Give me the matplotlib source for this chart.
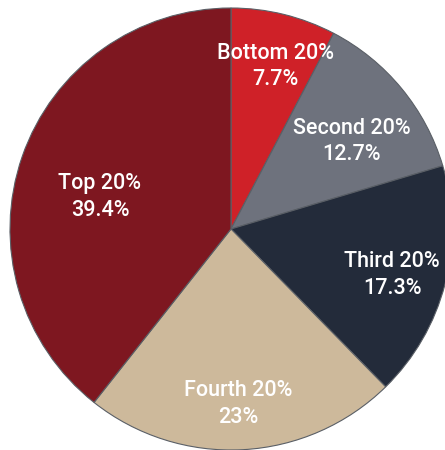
import matplotlib
matplotlib.use("Agg")
import matplotlib.pyplot as plt
import numpy as np

# quintile shares, clockwise from 12 o'clock
groups = ['Bottom 20%', 'Second 20%', 'Third 20%', 'Fourth 20%', 'Top 20%']
shares = [7.7, 12.7, 17.3, 23.0, 39.4]
share_labels = ['7.7%', '12.7%', '17.3%', '23%', '39.4%']
colors = ['#cf2128', '#6e727d', '#232b3a', '#cdb99b', '#7e1720']
# label placement: fraction of radius, and nudge (deg) from wedge middle
label_dist = [0.776, 0.684, 0.755, 0.779, 0.614]
label_nudge = [-1.3, -2.6, -0.5, -0.7, 4.2]

plt.rcParams['font.family'] = ['Roboto', 'DejaVu Sans']

fig = plt.figure(figsize=(4.45, 4.5), dpi=100)
ax = fig.add_axes([0, 0, 1, 1])

wedges, _ = ax.pie(shares, colors=colors, startangle=90, counterclock=False,
                   radius=1, center=(0, 0),
                   wedgeprops=dict(edgecolor='#5a5f66', linewidth=0.8))

# pie centre sits at (231, 229) px with radius 221 px; right/bottom are clipped
r_px = 221

for w, g, s, d, n in zip(wedges, groups, share_labels, label_dist, label_nudge):
    ang = np.deg2rad((w.theta1 + w.theta2) / 2 + n)
    # small downward shift so the glyph block (not its line box) is centred
    ax.text(d * np.cos(ang), d * np.sin(ang) - 3 / r_px, g + '\n' + s,
            ha='center', va='center', color='white', fontsize=15.5,
            fontweight='medium', linespacing=1.35)

ax.set_aspect('auto')
ax.set_xlim(-231 / r_px, (445 - 231) / r_px)
ax.set_ylim(-(450 - 229) / r_px, 229 / r_px)
ax.axis('off')

fig.savefig('out.png', dpi=100, facecolor='white')
